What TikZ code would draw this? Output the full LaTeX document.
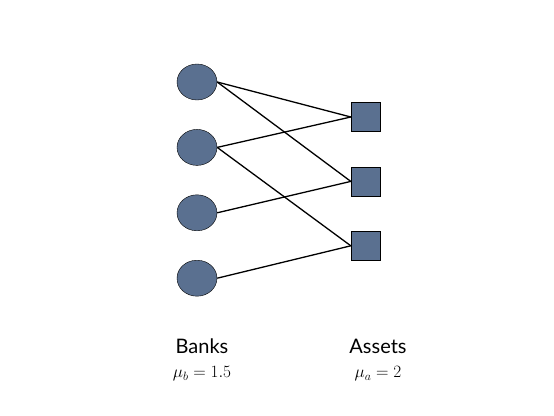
\documentclass[tikz,border=0pt]{standalone}
\usepackage{amsmath}
\usepackage{fontspec}
\newfontfamily\labelfont{Lato}
\usetikzlibrary{positioning,shapes.geometric}
\definecolor{steel}{HTML}{5A7090}

\begin{document}
\begin{tikzpicture}[
  x=1pt,y=-1pt,
  bank/.style={ellipse,draw=black,fill=steel,minimum width=40pt,
    minimum height=36pt,inner sep=0pt},
  asset/.style={rectangle,draw=black,fill=steel,minimum size=29pt,inner sep=0pt},
  link/.style={line width=1.3pt,black},
  title/.style={font=\labelfont\fontsize{20}{24}\selectfont},
  param/.style={font=\fontsize{18}{21}\selectfont}]
\useasboundingbox (0,0) rectangle (554,415);
\node[bank] (b1) at (197,82) {};
\node[bank,below=29pt of b1] (b2) {};
\node[bank,below=29pt of b2] (b3) {};
\node[bank,below=29pt of b3] (b4) {};
\node[asset] (a1) at (365.5,117) {};
\node[asset,below=35pt of a1] (a2) {};
\node[asset,below=35pt of a2] (a3) {};
\draw[link] (b1.east) -- (a1.west);
\draw[link] (b1.east) -- (a2.west);
\draw[link] (b2.east) -- (a1.west);
\draw[link] (b2.east) -- (a3.west);
\draw[link] (b3.east) -- (a2.west);
\draw[link] (b4.east) -- (a3.west);
\node[title] (banks) at (202,346) {Banks};
\node[param] (mub) at (202,374) {$\mu_b = 1.5$};
\node[title] (assets) at (378,346) {Assets};
\node[param] (mua) at (378,374) {$\mu_a = 2$};
\end{tikzpicture}
\end{document}
